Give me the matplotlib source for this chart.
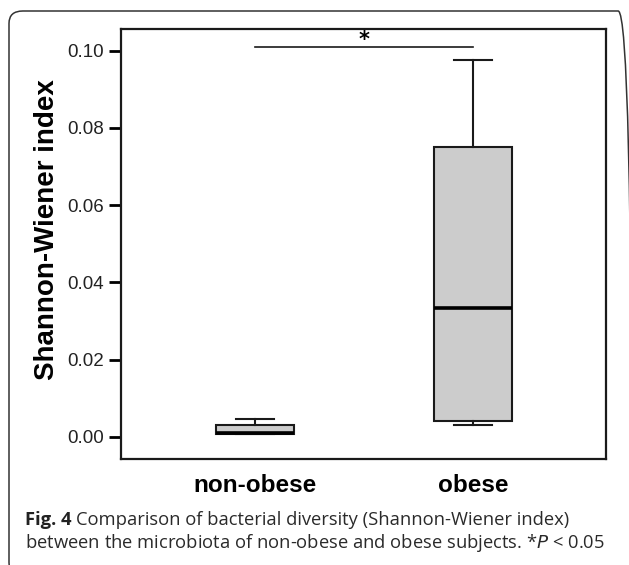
import matplotlib
matplotlib.use("Agg")
import matplotlib.pyplot as plt
from matplotlib.patches import FancyBboxPatch

# group names and box statistics
groups = ["non-obese", "obese"]
whisker_low = [0.00065, 0.0032]
q1 = [0.00065, 0.0041]
median = [0.00096, 0.0334]
q3 = [0.0031, 0.0751]
whisker_high = [0.0046, 0.0975]

yticks = [0.00, 0.02, 0.04, 0.06, 0.08, 0.10]
sig_y = 0.101

fig = plt.figure(figsize=(6.29, 5.65), dpi=100)
ax = fig.add_axes([0.1924, 0.1876, 0.771, 0.7611])

stats = []
for i, g in enumerate(groups):
    stats.append({"label": g, "whislo": whisker_low[i], "q1": q1[i], "med": median[i],
                  "q3": q3[i], "whishi": whisker_high[i], "fliers": []})

ax.bxp(stats, positions=[1, 2], widths=0.357, capwidths=0.174, patch_artist=True,
       showfliers=False,
       boxprops=dict(facecolor="#cccccc", edgecolor="#1a1a1a", linewidth=1.5),
       whiskerprops=dict(color="#1a1a1a", linewidth=1.5),
       capprops=dict(color="#1a1a1a", linewidth=1.5),
       medianprops=dict(color="black", linewidth=2.6))

ax.set_xlim(0.387, 2.607)
ax.set_ylim(-0.0057, 0.1056)
ax.set_yticks(yticks)
ax.set_yticklabels([f"{v:.2f}" for v in yticks], fontsize=13.5, family="Liberation Sans", color="#222222")
ax.set_xticks([1, 2])
ax.set_xticklabels(groups, fontsize=17.5, fontweight="bold", family="Liberation Sans")
ax.tick_params(axis="x", length=0, pad=11)
ax.tick_params(axis="y", length=9, width=2, pad=3)
for s in ax.spines.values():
    s.set_linewidth(1.6)
    s.set_color("#1a1a1a")

ax.set_ylabel("Shannon-Wiener index", fontsize=20, fontweight="bold", family="Liberation Sans")
ax.yaxis.set_label_coords(-0.126, 0.533)

# significance bar
ax.plot([1, 2], [sig_y, sig_y], color="#1a1a1a", linewidth=1.2)
ax.text(1.5, 0.1027, "*", ha="center", va="center", fontsize=15, fontweight="bold")

# outer rounded frame
frame = FancyBboxPatch((9 / 629, -10 / 565), 623 / 629, 564 / 565,
                       boxstyle="round,pad=0,rounding_size=0.022",
                       transform=fig.transFigure, fill=False, edgecolor="#333333", linewidth=1.1)
fig.add_artist(frame)

# caption
cap_font = "Open Sans"
cap_size = 13.2
fig.canvas.draw()
r = fig.canvas.get_renderer()
t1 = fig.text(25 / 629, 1 - 525 / 565, "Fig. 4", fontsize=cap_size, fontweight="bold",
              family=cap_font, color="#222222")
w = t1.get_window_extent(renderer=r).width
fig.text((25 + w + 5) / 629, 1 - 525 / 565, "Comparison of bacterial diversity (Shannon-Wiener index)",
         fontsize=cap_size, family=cap_font, color="#2a2a2a")
fig.text(25 / 629, 1 - 548 / 565, "between the microbiota of non-obese and obese subjects. *$\\it{P}$ < 0.05",
         fontsize=cap_size, family=cap_font, color="#2a2a2a")

fig.savefig("out.png", dpi=100)
